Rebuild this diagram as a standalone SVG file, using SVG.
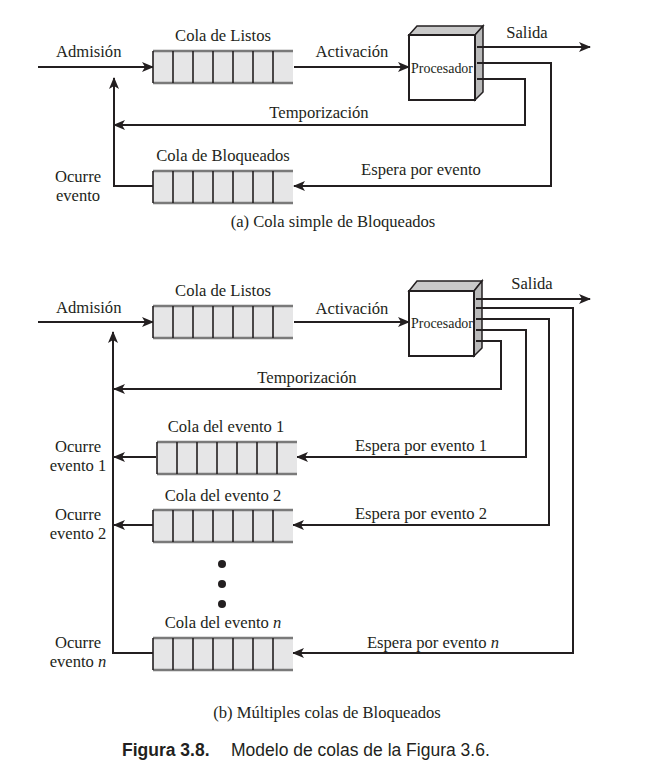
<svg xmlns="http://www.w3.org/2000/svg" width="650" height="783" viewBox="0 0 650 783">
<style>
text{font-family:"Liberation Serif","Times New Roman",serif;font-size:16.6px;fill:#231f20}
.c{text-anchor:middle}
.ln{fill:none;stroke:#231f20;stroke-width:2}
.qb{fill:#e6e6e7;stroke:none}
.qe{stroke:#7a7a7a;stroke-width:2.5}
.qd{stroke:#231f20;stroke-width:1.6}
.pf{fill:#ffffff;stroke:#231f20;stroke-width:2}
.pt{fill:#c9c9c9;stroke:#231f20;stroke-width:1.5}
.ps{fill:#b9b9b9;stroke:#231f20;stroke-width:1.5}
.tick{stroke:#231f20;stroke-width:2}
.pl{font-size:15px}
.cap{font-family:"Liberation Sans",Arial,sans-serif;font-size:17.5px}
</style>
<defs>
<marker id="ah" viewBox="0 0 12 10" refX="11" refY="5" markerWidth="12" markerHeight="10" markerUnits="userSpaceOnUse" orient="auto">
<path d="M0,0 L12,5 L0,10 L3,5 Z" fill="#231f20"/>
</marker>
<g id="queue">
<rect class="qb" x="0" y="0" width="140" height="32"/>
<line class="qe" x1="0" y1="0" x2="140" y2="0"/>
<line class="qe" x1="0" y1="32" x2="140" y2="32"/>
<line class="qd" x1="0" y1="0" x2="0" y2="32"/>
<line class="qd" x1="20" y1="0" x2="20" y2="32"/>
<line class="qd" x1="40" y1="0" x2="40" y2="32"/>
<line class="qd" x1="60" y1="0" x2="60" y2="32"/>
<line class="qd" x1="80" y1="0" x2="80" y2="32"/>
<line class="qd" x1="100" y1="0" x2="100" y2="32"/>
<line class="qd" x1="120" y1="0" x2="120" y2="32"/>
</g>
</defs>

<!-- ===== (a) ===== -->
<g id="connectors-a">
<line class="ln" x1="38" y1="67" x2="153" y2="67" marker-end="url(#ah)"/>
<line class="ln" x1="294" y1="67" x2="409" y2="67" marker-end="url(#ah)"/>
<line class="ln" x1="480" y1="47" x2="590" y2="47" marker-end="url(#ah)"/>
<polyline class="ln" points="480,63 551,63 551,186 294,186" marker-end="url(#ah)"/>
<polyline class="ln" points="480,79 525,79 525,125 114,125" marker-end="url(#ah)"/>
<polyline class="ln" points="153,186 114,186 114,78" marker-end="url(#ah)"/>
</g>
<g id="cola-listos-a">
<use href="#queue" x="153" y="51"/>
<text class="c" x="223" y="41">Cola de Listos</text>
</g>
<g id="procesador-a">
<polygon class="pt" points="409,35 417,26 483,26 475,35"/>
<polygon class="ps" points="475,35 483,26 483,92 475,100"/>
<rect class="pf" x="409" y="35" width="66" height="65"/>
<line class="tick" x1="477" y1="47" x2="483" y2="47"/>
<line class="tick" x1="477" y1="63" x2="483" y2="63"/>
<line class="tick" x1="477" y1="79" x2="483" y2="79"/>
<text class="pl" x="411" y="73" textLength="62" lengthAdjust="spacingAndGlyphs">Procesador</text>
</g>
<g id="cola-bloqueados-a">
<use href="#queue" x="153" y="171"/>
<text class="c" x="223" y="161">Cola de Bloqueados</text>
</g>
<g id="labels-a">
<text x="56" y="57">Admisión</text>
<text class="c" x="352" y="57">Activación</text>
<text class="c" x="527" y="38">Salida</text>
<text class="c" x="319" y="118">Temporización</text>
<text class="c" x="421" y="175">Espera por evento</text>
<text class="c" x="78" y="182">Ocurre</text>
<text class="c" x="78" y="201">evento</text>
<text class="c" x="333" y="227">(a) Cola simple de Bloqueados</text>
</g>

<!-- ===== (b) ===== -->
<g id="connectors-b">
<line class="ln" x1="38" y1="322" x2="153" y2="322" marker-end="url(#ah)"/>
<line class="ln" x1="294" y1="322" x2="409" y2="322" marker-end="url(#ah)"/>
<line class="ln" x1="479" y1="299" x2="590" y2="299" marker-end="url(#ah)"/>
<polyline class="ln" points="479,308 573,308 573,653 293,653" marker-end="url(#ah)"/>
<polyline class="ln" points="479,319 549,319 549,525 293,525" marker-end="url(#ah)"/>
<polyline class="ln" points="479,330 526,330 526,457 297,457" marker-end="url(#ah)"/>
<polyline class="ln" points="479,341 501,341 501,389 114,389" marker-end="url(#ah)"/>
<polyline class="ln" points="153,653 113,653 113,332" marker-end="url(#ah)"/>
<line class="ln" x1="156" y1="457" x2="114" y2="457" marker-end="url(#ah)"/>
<line class="ln" x1="153" y1="525" x2="114" y2="525" marker-end="url(#ah)"/>
</g>
<g id="cola-listos-b">
<use href="#queue" x="153" y="306"/>
<text class="c" x="223" y="296">Cola de Listos</text>
</g>
<g id="procesador-b">
<polygon class="pt" points="409,291 417,281 482,281 474,291"/>
<polygon class="ps" points="474,291 482,281 482,348 474,356"/>
<rect class="pf" x="409" y="291" width="65" height="65"/>
<line class="tick" x1="476" y1="299" x2="482" y2="299"/>
<line class="tick" x1="476" y1="308" x2="482" y2="308"/>
<line class="tick" x1="476" y1="319" x2="482" y2="319"/>
<line class="tick" x1="476" y1="330" x2="482" y2="330"/>
<line class="tick" x1="476" y1="341" x2="482" y2="341"/>
<text class="pl" x="411" y="328" textLength="62" lengthAdjust="spacingAndGlyphs">Procesador</text>
</g>
<g id="cola-evento-1">
<use href="#queue" x="157" y="442"/>
<text class="c" x="226" y="432">Cola del evento 1</text>
</g>
<g id="cola-evento-2">
<use href="#queue" x="153" y="510"/>
<text class="c" x="223" y="501">Cola del evento 2</text>
</g>
<g id="puntos">
<circle cx="222" cy="564" r="4" fill="#231f20"/>
<circle cx="222" cy="584" r="4" fill="#231f20"/>
<circle cx="222" cy="604" r="4" fill="#231f20"/>
</g>
<g id="cola-evento-n">
<use href="#queue" x="153" y="638"/>
<text class="c" x="223" y="628">Cola del evento <tspan font-style="italic">n</tspan></text>
</g>
<g id="labels-b">
<text x="56" y="313">Admisión</text>
<text class="c" x="352" y="314">Activación</text>
<text class="c" x="532" y="289">Salida</text>
<text class="c" x="307" y="383">Temporización</text>
<text class="c" x="421" y="451">Espera por evento 1</text>
<text class="c" x="421" y="519">Espera por evento 2</text>
<text class="c" x="433" y="648">Espera por evento <tspan font-style="italic">n</tspan></text>
<text class="c" x="78" y="452">Ocurre</text>
<text class="c" x="78" y="471">evento 1</text>
<text class="c" x="78" y="520">Ocurre</text>
<text class="c" x="78" y="539">evento 2</text>
<text class="c" x="78" y="648">Ocurre</text>
<text class="c" x="78" y="667">evento <tspan font-style="italic">n</tspan></text>
<text class="c" x="327" y="718">(b) Múltiples colas de Bloqueados</text>
</g>
<g id="caption">
<text class="cap" x="122" y="756"><tspan font-weight="bold">Figura 3.8.</tspan></text>
<text class="cap" x="231" y="756">Modelo de colas de la Figura 3.6.</text>
</g>
</svg>
